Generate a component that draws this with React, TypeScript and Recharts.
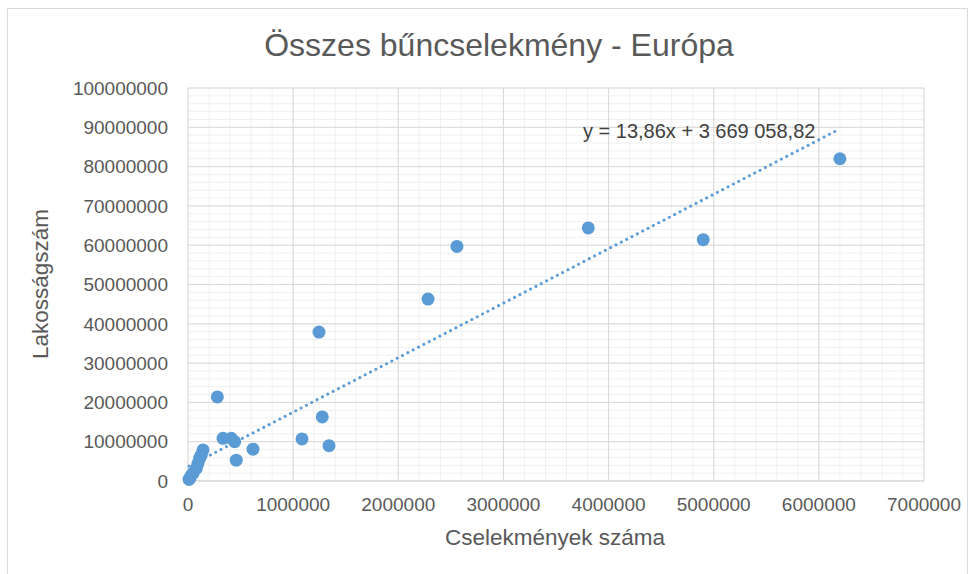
import React from "react";
import {
  CartesianGrid,
  ReferenceLine,
  Scatter,
  ScatterChart,
  XAxis,
  YAxis,
} from "recharts";

const crimes = [
  6200000, 4900000, 3807000, 2558000, 2283000, 1246000, 1277000, 1084000, 1341000,
  279000, 333000, 412000, 444000, 618000, 459000, 143000, 126000, 111000, 95000,
  79000, 48000, 29000, 16000, 10000,
];
const population = [
  82000000, 61400000, 64400000, 59700000, 46300000, 37900000, 16300000, 10700000,
  9000000, 21400000, 10850000, 10850000, 10000000, 8100000, 5300000, 7900000,
  6600000, 5800000, 4500000, 3200000, 2000000, 1300000, 700000, 400000,
];

const xTicks = [0, 1000000, 2000000, 3000000, 4000000, 5000000, 6000000, 7000000];
const yTicks = [
  0, 10000000, 20000000, 30000000, 40000000, 50000000, 60000000, 70000000, 80000000,
  90000000, 100000000,
];
const X_MAX = 7000000;
const Y_MAX = 100000000;
// minor grid every 1/5 of a major step
const xMinor = Array.from({ length: 36 }, (_, i) => i * 200000);
const yMinor = Array.from({ length: 51 }, (_, i) => i * 2000000);

const slope = 13.86;
const intercept = 3669058.82;
const trendLabel = "y = 13,86x + 3 669 058,82";

const points = crimes.map((c, i) => ({ x: c, y: population[i] }));
const xMin = Math.min(...crimes);
const xMax = Math.max(...crimes);

const W = 974;
const H = 574;
const FONT = '"Liberation Sans", Arial, sans-serif';
const BLUE = "#5B9BD5";

const Dot = (p: any) => <circle cx={p.cx} cy={p.cy} r={6.5} fill={BLUE} />;

// minor gridlines: use the axis scale when the grid gets one, else the plot box
const minorH = ({ yAxis, offset }: any) =>
  yMinor.map((v) =>
    typeof yAxis?.scale === "function"
      ? yAxis.scale(v)
      : offset.top + offset.height * (1 - v / Y_MAX)
  );
const minorV = ({ xAxis, offset }: any) =>
  xMinor.map((v) =>
    typeof xAxis?.scale === "function"
      ? xAxis.scale(v)
      : offset.left + offset.width * (v / X_MAX)
  );

export default function App() {
  return (
    <div style={{ position: "absolute", left: 0, top: 0, width: W, height: H, background: "#fff", fontFamily: FONT }}>
      <ScatterChart width={W} height={H} margin={{ top: 88, right: 50, bottom: 0, left: 0 }}>
        <CartesianGrid
          stroke="#F0F0F0"
          horizontalCoordinatesGenerator={minorH}
          verticalCoordinatesGenerator={minorV}
        />
        <CartesianGrid stroke="#D9D9D9" />
        <XAxis
          type="number"
          dataKey="x"
          domain={[0, X_MAX]}
          ticks={xTicks}
          interval={0}
          height={93}
          tickLine={false}
          tickSize={0}
          tickMargin={17}
          axisLine={{ stroke: "#D9D9D9" }}
          tick={{ fill: "#595959", fontSize: 19, fontFamily: FONT }}
          tickFormatter={(v) => String(v)}
        />
        <YAxis
          type="number"
          dataKey="y"
          domain={[0, Y_MAX]}
          ticks={yTicks}
          interval={0}
          width={188}
          tickLine={false}
          tickSize={0}
          tickMargin={20}
          axisLine={false}
          tick={{ fill: "#595959", fontSize: 19, fontFamily: FONT }}
          tickFormatter={(v) => String(v)}
        />
        <Scatter data={points} shape={Dot} isAnimationActive={false} />
        <ReferenceLine
          segment={[
            { x: xMin, y: slope * xMin + intercept },
            { x: xMax, y: slope * xMax + intercept },
          ]}
          stroke={BLUE}
          strokeWidth={3}
          strokeDasharray="0.01 6"
          strokeLinecap="round"
          ifOverflow="visible"
        />
      </ScatterChart>
      <svg
        width={W}
        height={H}
        style={{ position: "absolute", left: 0, top: 0, pointerEvents: "none" }}
      >
        <path d="M7.5 600 V8.5 H967.5 V600" fill="none" stroke="#D9D9D9" />
        <text x={499} y={56} textAnchor="middle" fontSize={32} fill="#595959" fontFamily={FONT}>
          Összes bűncselekmény - Európa
        </text>
        <text x={555} y={545} textAnchor="middle" fontSize={22.5} fill="#595959" fontFamily={FONT}>
          Cselekmények száma
        </text>
        <text
          transform="translate(48 284) rotate(-90)"
          textAnchor="middle"
          fontSize={22.5}
          fill="#595959"
          fontFamily={FONT}
        >
          Lakosságszám
        </text>
        <text x={583} y={138} fontSize={20} fill="#404040" fontFamily={FONT}>
          {trendLabel}
        </text>
      </svg>
    </div>
  );
}
